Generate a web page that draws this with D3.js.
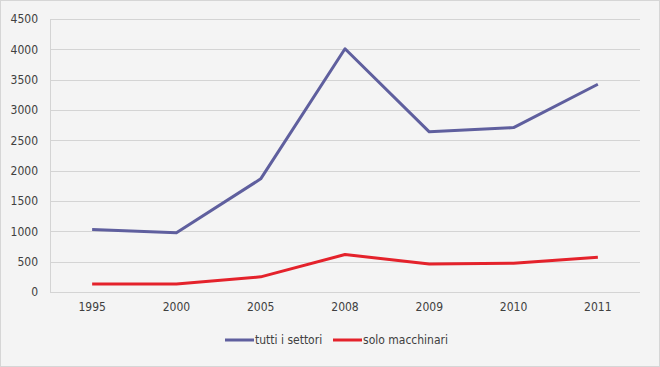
<!DOCTYPE html>
<html><head><meta charset="utf-8">
<script src="https://cdn.jsdelivr.net/npm/d3@7"></script>
<style>
html,body{margin:0;padding:0;background:#fff;}
svg{display:block;}
text{font-family:"Liberation Sans Narrow","DejaVu Sans Condensed","Roboto",sans-serif;}
</style></head>
<body><svg id="c" width="660" height="367"></svg>
<script>
const categories = ["1995","2000","2005","2008","2009","2010","2011"];
const tutti = [1030, 975, 1865, 4010, 2640, 2710, 3425];
const solo = [132, 132, 250, 618, 462, 475, 572];
const yTicks = [0,500,1000,1500,2000,2500,3000,3500,4000,4500];
const seriesNames = ["tutti i settori","solo macchinari"];
const colors = ["#5f5f9e","#e4222b"];

(function(){
const svg = d3.select("#c");
svg.append("rect").attr("x",0.5).attr("y",0.5).attr("width",659).attr("height",366)
  .attr("fill","#f4f4f4").attr("stroke","#d6d6d6");

const pLeft=50, pRight=640, pTop=19, pBottom=292;
const x = d3.scaleBand().domain(categories).range([pLeft,pRight]);
const y = d3.scaleLinear().domain([0,4500]).range([pBottom,pTop]);

svg.append("g").selectAll("line").data(yTicks).join("line")
  .attr("x1",pLeft).attr("x2",pRight)
  .attr("y1",d=>Math.round(y(d))+0.5).attr("y2",d=>Math.round(y(d))+0.5)
  .attr("stroke","#d4d4d4").attr("stroke-width",1);
svg.append("line").attr("x1",pLeft+0.5).attr("x2",pLeft+0.5).attr("y1",pTop).attr("y2",pBottom)
  .attr("stroke","#d4d4d4");

const yAxis = d3.axisLeft(y).tickValues(yTicks).tickFormat(d3.format("d")).tickSize(0).tickPadding(12);
const ga = svg.append("g").attr("transform",`translate(${pLeft},0)`).call(yAxis);
ga.select(".domain").remove();
ga.selectAll("text").attr("fill","#404040").style("font-size","12px");

const xAxis = d3.axisBottom(x).tickSize(0).tickPadding(10);
const gx = svg.append("g").attr("transform",`translate(0,${pBottom})`).call(xAxis);
gx.select(".domain").remove();
gx.selectAll("text").attr("fill","#404040").style("font-size","12px");

const line = d3.line().x((d,i)=>x(categories[i])+x.bandwidth()/2).y(d=>y(d));
[tutti, solo].forEach((s,i)=>{
  svg.append("path").datum(s).attr("d",line).attr("fill","none")
    .attr("stroke",colors[i]).attr("stroke-width",3).attr("stroke-linejoin","round");
});

const legendX = [225, 333];
seriesNames.forEach((n,i)=>{
  const g = svg.append("g").attr("transform",`translate(${legendX[i]},340)`);
  g.append("line").attr("x1",0).attr("x2",29).attr("y1",0).attr("y2",0)
    .attr("stroke",colors[i]).attr("stroke-width",3);
  g.append("text").attr("x",30).attr("y",0).attr("dy","0.35em")
    .attr("fill","#404040").style("font-size","12px").text(n);
});
})();
</script></body></html>
